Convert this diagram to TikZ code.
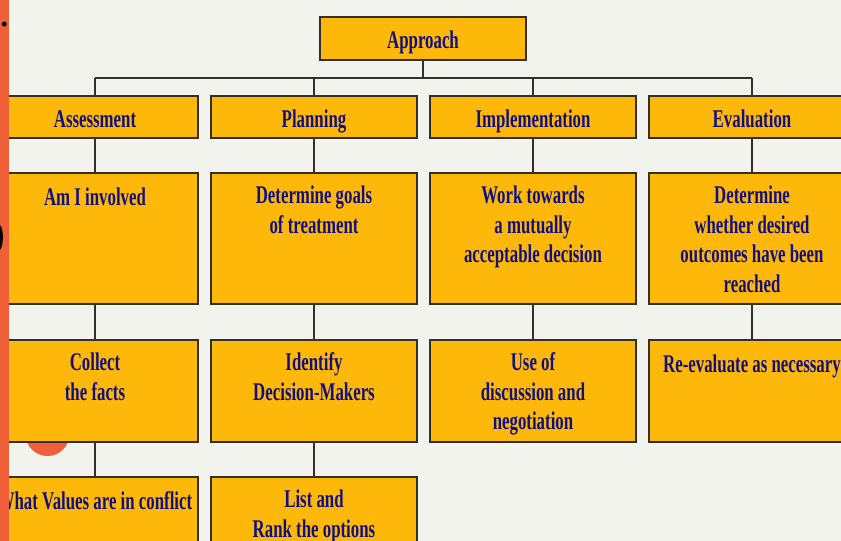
\documentclass[tikz,border=0pt]{standalone}
\usepackage{fontspec}
\newfontfamily\chartfont{Liberation Serif}[FakeStretch=0.66]
\usetikzlibrary{positioning}

\definecolor{pagebg}{RGB}{243,243,238}
\definecolor{boxfill}{RGB}{253,184,10}
\definecolor{boxline}{RGB}{50,48,40}
\definecolor{navytext}{RGB}{18,16,128}
\definecolor{accent}{RGB}{240,96,56}

\tikzset{
  stage/.style={draw=boxline, line width=1.4pt, fill=boxfill, minimum width=206pt, inner sep=0pt},
  stagetext/.style={text=navytext, align=center, inner sep=0pt,
    font=\chartfont\bfseries\fontsize{25.5}{29.5}\selectfont, execute at begin node=\strut},
  link/.style={draw=boxline, line width=1.3pt}
}

\begin{document}
\begin{tikzpicture}[x=1pt, y=-1pt, line join=miter]
  \useasboundingbox (0,0) rectangle (841,541);
  \clip (0,0) rectangle (841,541);
  \fill[pagebg] (0,0) rectangle (841,541);
  % the round mark behind the first column
  \fill[accent] (47.5,434) circle (22pt);

  % top box and the four stages
  \node[stage, minimum height=43pt] (approach) at (423,38.5) {};
  \node[stage, minimum height=42pt] (assess) at (95,117) {};
  \node[stage, minimum height=42pt] (plan)   at (314,117) {};
  \node[stage, minimum height=42pt] (impl)   at (533,117) {};
  \node[stage, minimum height=42pt] (evalu)  at (752,117) {};
  \coordinate (bus) at (423,78);

  % second row
  \node[stage, minimum height=131pt] (involved) at (95,238.5) {};
  \node[stage, minimum height=131pt] (goals)    at (314,238.5) {};
  \node[stage, minimum height=131pt] (decision) at (533,238.5) {};
  \node[stage, minimum height=131pt] (outcomes) at (752,238.5) {};

  % third row
  \node[stage, minimum height=102pt] (facts)   at (95,391) {};
  \node[stage, minimum height=102pt] (makers)  at (314,391) {};
  \node[stage, minimum height=102pt] (discuss) at (533,391) {};
  \node[stage, minimum height=102pt] (reeval)  at (752,391) {};

  % fourth row, runs off the page
  \node[stage, minimum height=102pt] (values)  at (95,528) {};
  \node[stage, minimum height=102pt] (options) at (314,528) {};

  % connectors, kept behind the boxes
  \draw[link] (approach.south) -- (bus);
  \draw[link] (assess.north |- bus) -- (evalu.north |- bus);
  \foreach \n in {assess,plan,impl,evalu}
    \draw[link] (\n.north |- bus) -- (\n.north);
  \foreach \a/\b in {assess/involved, plan/goals, impl/decision, evalu/outcomes,
                     involved/facts, goals/makers, decision/discuss, outcomes/reeval,
                     facts/values, makers/options}
    \draw[link] (\a.south) -- (\b.north);

  % labels
  \node[stagetext, below=11pt of approach.north] {Approach};
  \node[stagetext, below=11pt of assess.north] {Assessment};
  \node[stagetext, below=11pt of plan.north] {Planning};
  \node[stagetext, below=11pt of impl.north] {Implementation};
  \node[stagetext, below=11pt of evalu.north] {Evaluation};
  \node[stagetext, below=12.5pt of involved.north] {Am I involved};
  \node[stagetext, below=13.5pt of goals.north] {Determine goals\\of treatment};
  \node[stagetext, below=13.5pt of decision.north] {Work towards\\a mutually\\acceptable decision};
  \node[stagetext, below=13.5pt of outcomes.north] {Determine\\whether desired\\outcomes have been\\reached};
  \node[stagetext, below=13.5pt of facts.north] {Collect\\the facts};
  \node[stagetext, below=13.5pt of makers.north] {Identify\\Decision-Makers};
  \node[stagetext, below=13.5pt of discuss.north] {Use of\\discussion and\\negotiation};
  \node[stagetext, below=12.5pt of reeval.north] {Re-evaluate as necessary};
  \node[stagetext, below=12.5pt of values.north] {What Values are in conflict};
  \node[stagetext, below=13.5pt of options.north] {List and\\Rank the options};

  % slide edge: bar, bullet, cut-off glyph
  \fill[accent] (0,0) rectangle (9,541);
  \fill (4.3,24) circle (2.5pt);
  \fill (0,225) .. controls (3.8,228) and (3.8,246) .. (0,250) -- cycle;
\end{tikzpicture}
\end{document}
